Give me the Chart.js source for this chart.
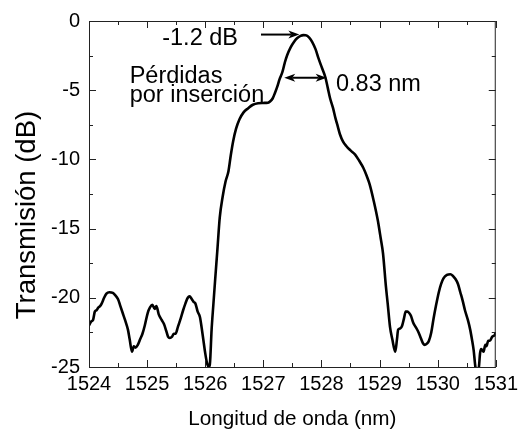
<!DOCTYPE html>
<html>
<head>
<meta charset="utf-8">
<script src="https://cdn.jsdelivr.net/npm/chart.js@4.4.0/dist/chart.umd.min.js"></script>
<style>
  html, body { margin: 0; padding: 0; background: #fff; }
  canvas { display: block; }
</style>
</head>
<body>
<canvas id="myChart" width="523" height="432"></canvas>
<script>
// wavelength (nm) and transmission (dB)
var wavelength = [
  1524.00, 1524.04, 1524.07, 1524.10, 1524.13, 1524.16, 1524.19, 1524.22, 1524.26, 1524.30,
  1524.35, 1524.41, 1524.45, 1524.50, 1524.54, 1524.58, 1524.62, 1524.67, 1524.70, 1524.74,
  1524.77, 1524.80, 1524.84, 1524.88, 1524.92, 1524.96, 1525.01, 1525.05, 1525.09, 1525.13,
  1525.16, 1525.20, 1525.25, 1525.29, 1525.33, 1525.36, 1525.39, 1525.43, 1525.46, 1525.49,
  1525.53, 1525.57, 1525.62, 1525.66, 1525.70, 1525.73, 1525.77, 1525.80, 1525.83, 1525.87,
  1525.91, 1525.94, 1525.97, 1526.00, 1526.03, 1526.06, 1526.08, 1526.11, 1526.14, 1526.17,
  1526.21, 1526.25, 1526.30, 1526.35, 1526.40, 1526.44, 1526.48, 1526.53, 1526.59, 1526.66,
  1526.74, 1526.82, 1526.91, 1527.00, 1527.08, 1527.12, 1527.16, 1527.20, 1527.24, 1527.28,
  1527.33, 1527.37, 1527.41, 1527.47, 1527.53, 1527.58, 1527.64, 1527.69, 1527.73, 1527.79,
  1527.84, 1527.90, 1527.95, 1528.01, 1528.07, 1528.11, 1528.15, 1528.20, 1528.24, 1528.28,
  1528.32, 1528.37, 1528.43, 1528.50, 1528.58, 1528.65, 1528.72, 1528.78, 1528.83, 1528.90,
  1528.97, 1529.02, 1529.06, 1529.11, 1529.14, 1529.18, 1529.22, 1529.27, 1529.30, 1529.32,
  1529.36, 1529.39, 1529.42, 1529.45, 1529.48, 1529.51, 1529.54, 1529.58, 1529.62, 1529.66,
  1529.71, 1529.75, 1529.78, 1529.82, 1529.85, 1529.89, 1529.93, 1529.97, 1530.02, 1530.06,
  1530.10, 1530.16, 1530.22, 1530.26, 1530.30, 1530.35, 1530.39, 1530.43, 1530.47, 1530.52,
  1530.56, 1530.59, 1530.62, 1530.65, 1530.68, 1530.71, 1530.73, 1530.75, 1530.79, 1530.82,
  1530.84, 1530.87, 1530.90, 1530.94, 1530.98, 1531.00
];
var transmission = [
  -22.0, -21.7, -21.6, -21.0, -20.9, -20.7, -20.6, -20.4, -20.0, -19.7,
  -19.6, -19.65, -19.8, -20.1, -20.6, -21.1, -21.6, -22.3, -23.0, -23.9,
  -23.5, -23.6, -23.4, -23.0, -22.6, -22.0, -21.1, -20.7, -20.5, -20.8,
  -20.6, -21.2, -21.6, -21.9, -22.4, -22.8, -22.9, -22.8, -22.6, -22.6,
  -22.1, -21.6, -20.9, -20.4, -20.0, -19.9, -20.1, -20.3, -20.4, -21.0,
  -21.4, -22.2, -23.1, -24.0, -24.7, -25.0, -24.8, -22.3, -20.5, -18.75,
  -16.5, -14.2, -12.7, -11.6, -10.85, -9.7, -8.7, -7.8, -7.1, -6.6,
  -6.3, -6.05, -5.94, -5.92, -5.9, -5.8, -5.6, -5.2, -4.74, -4.2,
  -3.66, -3.0, -2.47, -1.9, -1.5, -1.25, -1.08, -1.02, -1.03, -1.2,
  -1.5, -2.05, -2.7, -3.4, -4.1, -4.85, -5.6, -6.3, -7.0, -7.6,
  -8.2, -8.7, -9.05, -9.35, -9.65, -10.1, -10.6, -11.2, -11.8, -13.0,
  -14.4, -15.7, -16.8, -19.2, -20.4, -22.1, -23.0, -23.9, -23.0, -22.3,
  -22.2, -22.0, -21.5, -21.0, -21.0, -21.1, -21.3, -21.8, -22.1, -22.4,
  -22.9, -23.3, -23.4, -23.3, -23.1, -22.5, -21.5, -20.6, -19.6, -19.0,
  -18.6, -18.35, -18.3, -18.4, -18.6, -19.0, -19.6, -20.2, -20.9, -21.6,
  -22.3, -23.0, -23.8, -25.0, -25.3, -25.0, -24.0, -23.7, -23.9, -23.4,
  -23.5, -23.1, -23.1, -22.8, -22.7, -22.5
];

var xTicks = [1524, 1525, 1526, 1527, 1528, 1529, 1530, 1531];
var yTicks = [-25, -20, -15, -10, -5, 0];
var xMinor = [1524.5, 1525.5, 1526.5, 1527.5, 1528.5, 1529.5, 1530.5];
var yMinor = [-22.5, -17.5, -12.5, -7.5, -2.5];

// annotation anchors in data units
var lossArrow = [[1526.96, -0.98], [1527.62, -0.98]];
var widthArrow = [[1527.36, -4.1], [1528.09, -4.1]];
var labels = [
  { text: '-1.2 dB', x: 1525.26, y: -1.72 },
  { text: 'Pérdidas', x: 1524.70, y: -4.49 },
  { text: 'por inserción', x: 1524.70, y: -5.82 },
  { text: '0.83 nm', x: 1528.25, y: -5.05 }
];

var FONT = "'Liberation Sans', Arial, sans-serif";

function arrowHead(ctx, x, y, dir) {
    ctx.beginPath();
    ctx.moveTo(x, y);
    ctx.lineTo(x - dir * 11, y - 4);
    ctx.lineTo(x - dir * 8, y);
    ctx.lineTo(x - dir * 11, y + 4);
    ctx.closePath();
    ctx.fill();
}

var framePlugin = {
    id: 'frame',
    afterDatasetsDraw: function(chart) {
        var ctx = chart.ctx, a = chart.chartArea;
        var xs = chart.scales.x, ys = chart.scales.y;
        ctx.save();
        ctx.strokeStyle = '#222';
        ctx.lineWidth = 1;
        ctx.strokeRect(a.left + 0.5, a.top + 0.5, a.right - a.left - 1, a.bottom - a.top);

        function vt(v, len) {
            var px = Math.round(xs.getPixelForValue(v)) + 0.5;
            ctx.beginPath();
            ctx.moveTo(px, a.bottom); ctx.lineTo(px, a.bottom - len);
            ctx.moveTo(px, a.top); ctx.lineTo(px, a.top + len);
            ctx.stroke();
        }
        function ht(v, len) {
            var py = Math.round(ys.getPixelForValue(v)) + 0.5;
            ctx.beginPath();
            ctx.moveTo(a.left, py); ctx.lineTo(a.left + len, py);
            ctx.moveTo(a.right, py); ctx.lineTo(a.right - len, py);
            ctx.stroke();
        }
        xTicks.forEach(function(v) { vt(v, 7); });
        xMinor.forEach(function(v) { vt(v, 4); });
        yTicks.forEach(function(v) { ht(v, 7); });
        yMinor.forEach(function(v) { ht(v, 4); });

        // arrows
        ctx.strokeStyle = '#000';
        ctx.fillStyle = '#000';
        ctx.lineWidth = 2;
        var x1 = xs.getPixelForValue(lossArrow[0][0]), x2 = xs.getPixelForValue(lossArrow[1][0]);
        var y1 = ys.getPixelForValue(lossArrow[0][1]);
        ctx.beginPath(); ctx.moveTo(x1, y1); ctx.lineTo(x2 - 8, y1); ctx.stroke();
        arrowHead(ctx, x2, y1, 1);

        var w1 = xs.getPixelForValue(widthArrow[0][0]), w2 = xs.getPixelForValue(widthArrow[1][0]);
        var wy = ys.getPixelForValue(widthArrow[0][1]);
        ctx.beginPath(); ctx.moveTo(w1 + 8, wy); ctx.lineTo(w2 - 8, wy); ctx.stroke();
        arrowHead(ctx, w2, wy, 1);
        arrowHead(ctx, w1, wy, -1);

        // text
        ctx.font = '23.5px ' + FONT;
        ctx.textAlign = 'left';
        ctx.textBaseline = 'alphabetic';
        labels.forEach(function(l) {
            ctx.fillText(l.text, xs.getPixelForValue(l.x), ys.getPixelForValue(l.y));
        });

        // y axis title
        ctx.save();
        ctx.translate(27, 215);
        ctx.rotate(-Math.PI / 2);
        ctx.font = '27.5px ' + FONT;
        ctx.textAlign = 'center';
        ctx.textBaseline = 'middle';
        ctx.fillText('Transmisión (dB)', 0, 0);
        ctx.restore();

        ctx.restore();
    }
};

var ctx = document.getElementById('myChart').getContext('2d');
var chart = new Chart(ctx, {
    type: 'line',
    data: {
        datasets: [{
            data: wavelength.map(function(w, i) { return { x: w, y: transmission[i] }; }),
            borderColor: '#000',
            borderWidth: 2.6,
            pointRadius: 0,
            fill: false,
            cubicInterpolationMode: 'monotone'
        }]
    },
    options: {
        responsive: false,
        animation: false,
        layout: { padding: { top: 19, right: 22, left: 0, bottom: 0 } },
        plugins: { legend: { display: false }, tooltip: { enabled: false } },
        scales: {
            x: {
                type: 'linear',
                min: 1524, max: 1531,
                afterBuildTicks: function(s) { s.ticks = xTicks.map(function(v) { return { value: v }; }); },
                afterFit: function(s) { s.height = 65; },
                grid: { display: false, drawTicks: false },
                border: { display: false },
                ticks: {
                    color: '#000', padding: 5, maxRotation: 0, autoSkip: false,
                    font: { size: 20, family: FONT },
                    callback: function(v) { return String(v); }
                },
                title: { display: true, text: 'Longitud de onda (nm)', color: '#000', padding: 0, font: { size: 20.7, family: FONT } }
            },
            y: {
                min: -25, max: 0,
                afterBuildTicks: function(s) { s.ticks = yTicks.map(function(v) { return { value: v }; }); },
                afterFit: function(s) { s.width = 89; },
                grid: { display: false, drawTicks: false },
                border: { display: false },
                ticks: {
                    color: '#000', padding: 9,
                    font: { size: 20, family: FONT },
                    callback: function(v) { return String(v); }
                }
            }
        }
    },
    plugins: [framePlugin]
});
</script>
</body>
</html>
